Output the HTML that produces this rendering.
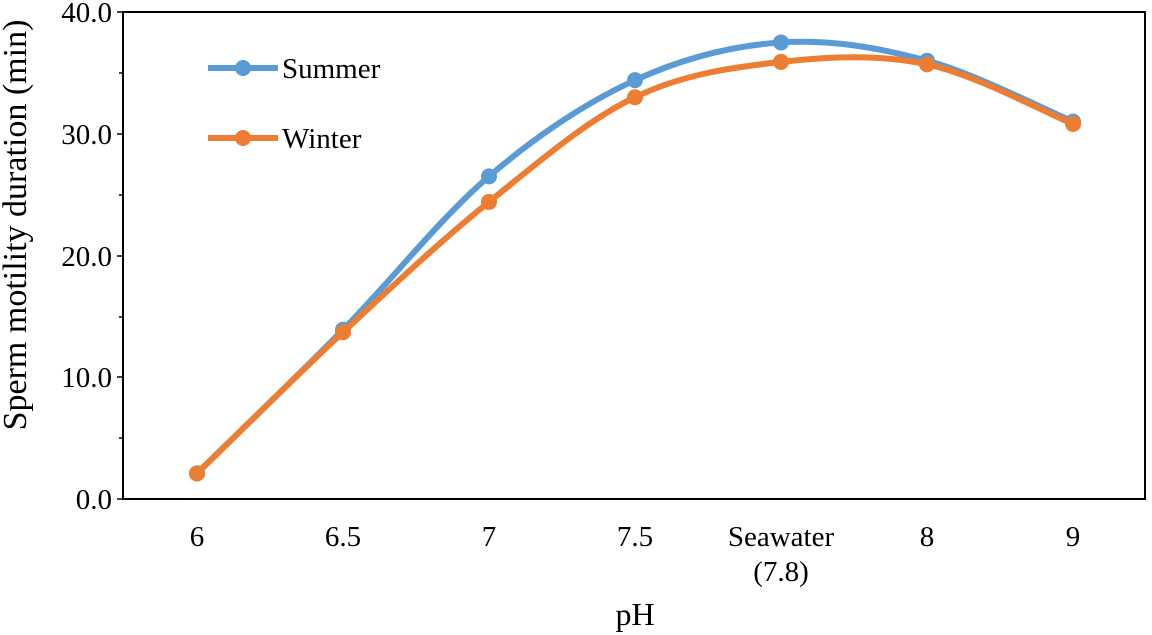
<!DOCTYPE html>
<html><head><meta charset="utf-8"><style>
body{margin:0;background:#fff}
svg{display:block;font-family:"Liberation Serif",serif}
</style></head><body>
<svg id="s" width="1152" height="635" xmlns="http://www.w3.org/2000/svg">
<rect x="123" y="12" width="1022" height="487" fill="none" stroke="#000" stroke-width="2"/>
<g stroke="#000" stroke-width="1.5">
<line x1="117" y1="12" x2="123" y2="12"/><line x1="117" y1="134" x2="123" y2="134"/>
<line x1="117" y1="256" x2="123" y2="256"/><line x1="117" y1="377" x2="123" y2="377"/>
<line x1="117" y1="499" x2="123" y2="499"/>
<line x1="119" y1="73" x2="123" y2="73"/><line x1="119" y1="195" x2="123" y2="195"/>
<line x1="119" y1="317" x2="123" y2="317"/><line x1="119" y1="438" x2="123" y2="438"/>
</g>
<g font-size="29" text-anchor="end">
<text x="112" y="22">40.0</text><text x="112" y="144">30.0</text>
<text x="112" y="266">20.0</text><text x="112" y="387">10.0</text>
<text x="112" y="509">0.0</text>
</g>
<g font-size="29" text-anchor="middle">
<text x="197" y="546">6</text><text x="343" y="546">6.5</text><text x="489" y="546">7</text>
<text x="635" y="546">7.5</text><text x="781" y="546">Seawater</text><text x="781" y="581">(7.8)</text>
<text x="927" y="546">8</text><text x="1073" y="546">9</text>
<text x="635" y="625" font-size="32">pH</text>
<text transform="translate(26,225) rotate(-90)" font-size="34">Sperm motility duration (min)</text>
</g>
<g id="series"></g>
<line x1="208" y1="68" x2="278" y2="68" stroke="#5B9BD5" stroke-width="6"/>
<circle cx="243" cy="68" r="8" fill="#5B9BD5"/>
<text x="282" y="78" font-size="29">Summer</text>
<line x1="208" y1="138" x2="278" y2="138" stroke="#ED7D31" stroke-width="6"/>
<circle cx="243" cy="138" r="8" fill="#ED7D31"/>
<text x="282" y="148" font-size="29">Winter</text>
</svg>
<script>
var xs=[197,343,489,635,781,927,1073];
function y(v){return 499-v*12.175;}
var S=[2.1,13.9,26.5,34.4,37.5,36.0,31.0],W=[2.1,13.7,24.4,33.0,35.9,35.7,30.8];
function draw(d,c){
 var p=xs.map(function(x,i){return [x,y(d[i])];});
 var s="M"+p[0][0]+","+p[0][1];
 for(var i=0;i<p.length-1;i++){
  var p0=p[i-1]||p[i],p1=p[i],p2=p[i+1],p3=p[i+2]||p2,t=6;
  s+="C"+(p1[0]+(p2[0]-p0[0])/t)+","+(p1[1]+(p2[1]-p0[1])/t)+" "+(p2[0]-(p3[0]-p1[0])/t)+","+(p2[1]-(p3[1]-p1[1])/t)+" "+p2[0]+","+p2[1];
 }
 var h='<path d="'+s+'" fill="none" stroke="'+c+'" stroke-width="6"/>';
 p.forEach(function(q){h+='<circle cx="'+q[0]+'" cy="'+q[1]+'" r="8" fill="'+c+'"/>';});
 return h;
}
document.getElementById("series").innerHTML=draw(S,"#5B9BD5")+draw(W,"#ED7D31");
</script>
</body></html>
